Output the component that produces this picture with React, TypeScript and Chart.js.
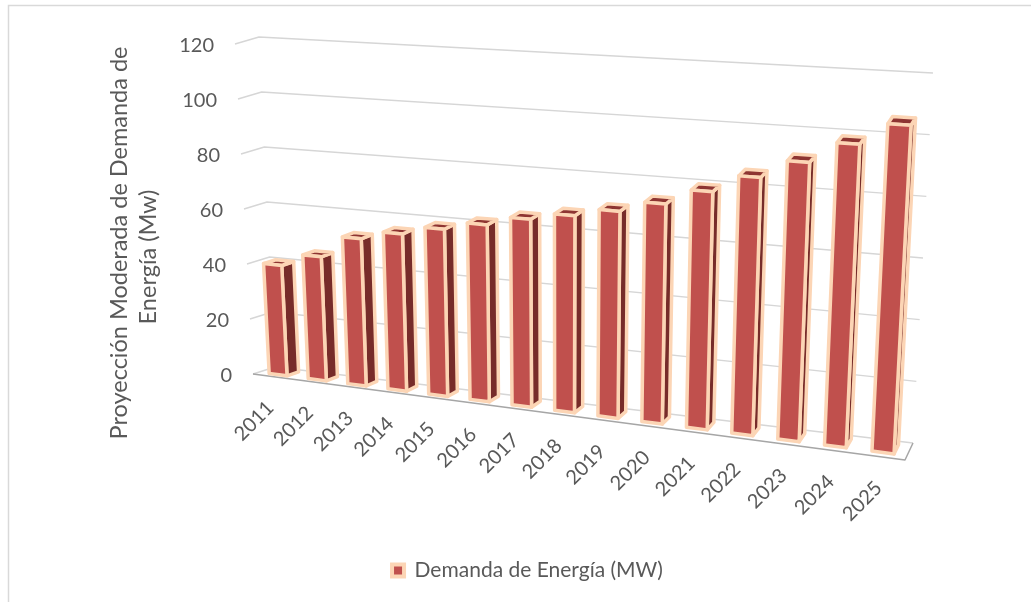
import React, { useEffect, useRef } from "react";
import { Chart, registerables } from "chart.js";

Chart.register(...registerables);

// ---------- data ----------
const years = ["2011", "2012", "2013", "2014", "2015", "2016", "2017", "2018", "2019", "2020", "2021", "2022", "2023", "2024", "2025"];
const demandMW = [39.9, 44.5, 52.4, 55.5, 58.6, 61.5, 64.8, 67.4, 70.2, 74.0, 79.4, 85.4, 91.6, 98.7, 106.0];
const yTickValues = [0, 20, 40, 60, 80, 100, 120];
const seriesName = "Demanda de Energía (MW)";
const yTitleLines = ["Proyección Moderada de Demanda de", "Energía (Mw)"];

// ---------- style ----------
const FONT = "Lato, 'Open Sans', sans-serif";
const TEXT = "#595959";
const FRONT = "#C0504D";
const SIDE = "#772C2A";
const TOPC = "#8E3532";
const EDGE = "#FCD5B5";
const GRID = "#D6D6D6";
const FLOOR = "#A6A6A6";

type Pt = [number, number];
const lerp = (a: Pt, b: Pt, t: number): Pt => [a[0] + (b[0] - a[0]) * t, a[1] + (b[1] - a[1]) * t];

// 3D box corners on screen (back/front, left/right, bottom/top)
const BOX = {
  blb: [275, 367] as Pt,
  blt: [259, 37] as Pt,
  brb: [913, 443] as Pt,
  brt: [933, 73] as Pt,
  flb: [253, 374] as Pt,
  flt: [235, 44] as Pt,
  frb: [905, 460] as Pt,
  frt: [925, 86] as Pt,
};
const PERSP = 1.12;
const D0 = 0.2;
const D1 = 0.74;

const warp = (u: number) => u / (u + PERSP * (1 - u));
const project = (u: number, v: number, d: number): Pt => {
  const g = warp(u);
  const bb = lerp(BOX.blb, BOX.brb, g);
  const bt = lerp(BOX.blt, BOX.brt, g);
  const fb = lerp(BOX.flb, BOX.frb, g);
  const ft = lerp(BOX.flt, BOX.frt, g);
  const b = lerp(bb, bt, v);
  const f = lerp(fb, ft, v);
  return lerp(b, f, d);
};

const poly = (ctx: CanvasRenderingContext2D, pts: Pt[], fill: string | null, stroke: string | null, lw = 1) => {
  ctx.beginPath();
  ctx.moveTo(pts[0][0], pts[0][1]);
  for (let i = 1; i < pts.length; i++) ctx.lineTo(pts[i][0], pts[i][1]);
  ctx.closePath();
  if (fill) {
    ctx.fillStyle = fill;
    ctx.fill();
  }
  if (stroke) {
    ctx.strokeStyle = stroke;
    ctx.lineWidth = lw;
    ctx.lineJoin = "round";
    ctx.stroke();
  }
};

const polyline = (ctx: CanvasRenderingContext2D, pts: Pt[], color: string, lw: number) => {
  ctx.beginPath();
  ctx.moveTo(pts[0][0], pts[0][1]);
  for (let i = 1; i < pts.length; i++) ctx.lineTo(pts[i][0], pts[i][1]);
  ctx.strokeStyle = color;
  ctx.lineWidth = lw;
  ctx.lineJoin = "round";
  ctx.stroke();
};

const scenePlugin = {
  id: "scene3d",
  beforeDatasetsDraw(chart: any) {
    const { ctx, chartArea: ca, scales } = chart;
    const xs = scales.x;
    const ys = scales.y;
    const uOf = (px: number) => (px - ca.left) / (ca.right - ca.left);
    const vOf = (py: number) => (ca.bottom - py) / (ca.bottom - ca.top);

    ctx.save();

    // outer chart border
    ctx.strokeStyle = "#D9D9D9";
    ctx.lineWidth = 1.5;
    ctx.strokeRect(8.5, 5.5, 1200, 800);

    // side wall + back wall gridlines
    yTickValues.forEach((t) => {
      const v = vOf(ys.getPixelForValue(t));
      polyline(ctx, [project(0, v, 1), project(0, v, 0), project(1, v, 0)], GRID, 1.4);
    });

    // floor front & right edges
    polyline(ctx, [project(0, 0, 1), project(1, 0, 1), project(1, 0, 0)], FLOOR, 1.5);

    // bars
    const meta = chart.getDatasetMeta(0);
    meta.data.forEach((el: any) => {
      const u0 = uOf(el.x - el.width / 2);
      const u1 = uOf(el.x + el.width / 2);
      const vb = vOf(el.base);
      const vt = vOf(el.y);
      const side: Pt[] = [project(u1, vb, D1), project(u1, vb, D0), project(u1, vt, D0), project(u1, vt, D1)];
      const top: Pt[] = [project(u0, vt, D1), project(u1, vt, D1), project(u1, vt, D0), project(u0, vt, D0)];
      const front: Pt[] = [project(u0, vb, D1), project(u1, vb, D1), project(u1, vt, D1), project(u0, vt, D1)];
      poly(ctx, side, SIDE, EDGE, 3.5);
      poly(ctx, top, TOPC, EDGE, 3.5);
      poly(ctx, front, FRONT, EDGE, 3.5);
    });

    // y tick labels
    ctx.fillStyle = TEXT;
    ctx.font = `20px ${FONT}`;
    ctx.textAlign = "right";
    ctx.textBaseline = "middle";
    yTickValues.forEach((t) => {
      const v = vOf(ys.getPixelForValue(t));
      const p = project(0, v, 1);
      ctx.fillText(String(t), p[0] - 21, p[1] + 1.5);
    });

    // x tick labels (rotated)
    years.forEach((lab, i) => {
      const u = uOf(xs.getPixelForValue(i));
      const p = project(u, 0, 1);
      ctx.save();
      ctx.translate(p[0] - 2, p[1] + 28);
      ctx.rotate(-Math.PI / 4);
      ctx.textAlign = "right";
      ctx.textBaseline = "middle";
      ctx.fillText(lab, 0, 0);
      ctx.restore();
    });

    // y axis title
    ctx.font = `23.5px ${FONT}`;
    ctx.textAlign = "center";
    ctx.textBaseline = "middle";
    const titleX = [119, 148];
    const titleY = [243, 257];
    yTitleLines.forEach((line, i) => {
      ctx.save();
      ctx.translate(titleX[i], titleY[i]);
      ctx.rotate(-Math.PI / 2);
      ctx.fillText(line, 0, 0);
      ctx.restore();
    });

    ctx.restore();
    return false;
  },
};

export default function App() {
  const ref = useRef<HTMLCanvasElement | null>(null);

  useEffect(() => {
    if (!ref.current) return;
    const chart = new Chart(ref.current, {
      type: "bar",
      data: {
        labels: years,
        datasets: [
          {
            label: seriesName,
            data: demandMW,
            backgroundColor: FRONT,
            borderColor: EDGE,
            borderWidth: 3,
            barPercentage: 0.46,
            categoryPercentage: 1,
          },
        ],
      },
      options: {
        animation: false,
        responsive: true,
        maintainAspectRatio: false,
        layout: { padding: { left: 24, right: 0, top: 40, bottom: 11 } },
        scales: {
          x: { display: false },
          y: { display: false, min: 0, max: 120, ticks: { stepSize: 20 } },
        },
        plugins: {
          tooltip: { enabled: false },
          legend: {
            position: "bottom",
            labels: {
              color: TEXT,
              font: { family: FONT, size: 21 },
              boxWidth: 12,
              boxHeight: 12,
              generateLabels: () => [
                {
                  text: seriesName,
                  fillStyle: FRONT,
                  strokeStyle: EDGE,
                  lineWidth: 4,
                  hidden: false,
                  datasetIndex: 0,
                  fontColor: TEXT,
                },
              ],
            },
          },
        },
      },
      plugins: [scenePlugin],
    });
    return () => chart.destroy();
  }, []);

  return (
    <div style={{ position: "absolute", left: 0, top: 0, width: 1031, height: 602 }}>
      <canvas ref={ref} />
    </div>
  );
}
